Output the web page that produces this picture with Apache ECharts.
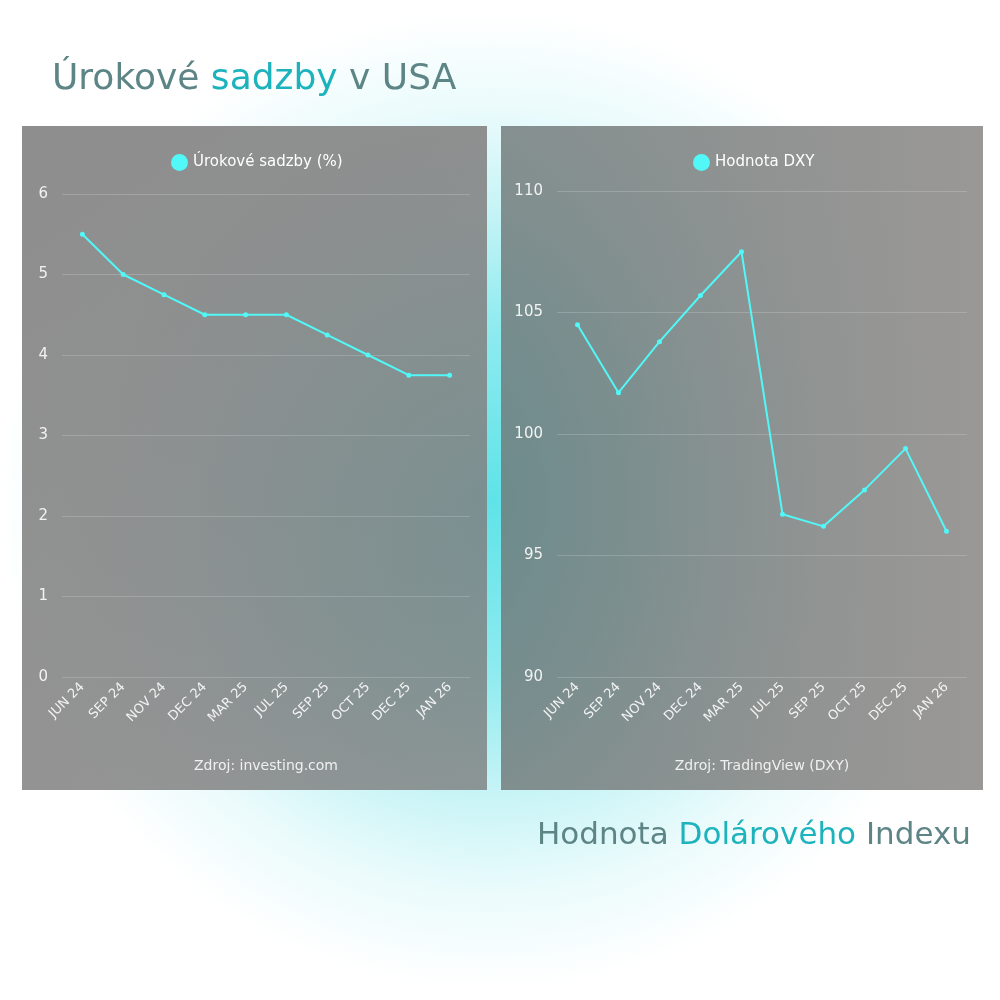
<!DOCTYPE html>
<html><head><meta charset="utf-8">
<script src="https://cdn.jsdelivr.net/npm/echarts@6/dist/echarts.min.js"></script>
<style>html,body{margin:0;padding:0;background:#fff}#c{width:1000px;height:1000px}</style>
</head><body><div id="c"></div>
<script>
const categories = ['JUN 24','SEP 24','NOV 24','DEC 24','MAR 25','JUL 25','SEP 25','OCT 25','DEC 25','JAN 26'];
const rateValues = [5.5, 5.0, 4.75, 4.5, 4.5, 4.5, 4.25, 4.0, 3.75, 3.75];
const dxyValues = [104.5, 101.7, 103.8, 105.7, 107.5, 96.7, 96.2, 97.7, 99.4, 96.0];
const rateName = 'Úrokové sadzby (%)';
const dxyName = 'Hodnota DXY';

const FONT = 'DejaVu Sans';
const chart = echarts.init(document.getElementById('c'));
const lineColor = '#52f7f7';
const labelColor = '#f2f2f2';

function xAxis(gi){
  return {type:'category', gridIndex:gi, data:categories, boundaryGap:true,
    axisLine:{show:false}, axisTick:{show:false},
    axisLabel:{rotate:45, color:labelColor, fontFamily:FONT, fontSize:13, margin:8, interval:0}};
}
function yAxis(gi, min, max, interval){
  return {type:'value', gridIndex:gi, min, max, interval,
    axisLine:{show:false}, axisTick:{show:false},
    axisLabel:{color:labelColor, fontFamily:FONT, fontSize:15, margin:14},
    splitLine:{lineStyle:{color:'rgba(255,255,255,0.18)', width:1}}};
}
function series(name, data, idx){
  return {type:'line', name, data, xAxisIndex:idx, yAxisIndex:idx,
    symbol:'circle', symbolSize:5, showSymbol:true,
    lineStyle:{color:lineColor, width:2}, itemStyle:{color:lineColor}};
}

chart.setOption({
  backgroundColor:{type:'radial', x:0.49, y:0.5, r:0.49,
    colorStops:[{offset:0,color:'#5fe3e8'},{offset:0.35,color:'#8eebef'},{offset:0.6,color:'#c8f4f6'},{offset:0.8,color:'#ebfbfc'},{offset:1,color:'#ffffff'}]},
  textStyle:{fontFamily:FONT},
  graphic:[
    {type:'rect', z:-10, silent:true, shape:{x:22,y:126,width:465,height:664},
      style:{fill:{type:'linear',x:0,y:0,x2:1,y2:1,colorStops:[{offset:0,color:'rgba(138,138,138,0.97)'},{offset:1,color:'rgba(125,125,125,0.8)'}]}}},
    {type:'rect', z:-10, silent:true, shape:{x:501,y:126,width:482,height:664},
      style:{fill:{type:'linear',x:0,y:0,x2:1,y2:0,colorStops:[{offset:0,color:'rgba(112,120,120,0.82)'},{offset:1,color:'rgba(152,150,148,0.98)'}]}}},
    {type:'text', left:52, top:62, style:{
      text:'{a|Úrokové }{b|sadzby }{a|v USA}',
      rich:{a:{fontSize:36, fontFamily:FONT, fill:'#5d8586'}, b:{fontSize:36, fontFamily:FONT, fill:'#1db3bd'}}}},
    {type:'text', left:537, top:820, style:{
      text:'{a|Hodnota }{b|Dolárového }{a|Indexu}',
      rich:{a:{fontSize:31, fontFamily:FONT, fill:'#5d8586'}, b:{fontSize:31, fontFamily:FONT, fill:'#1db3bd'}}}},
    {type:'text', x:266, y:766, style:{text:'Zdroj: investing.com', fill:'#f0f0f0', fontSize:14, fontFamily:FONT, textAlign:'center', textVerticalAlign:'middle'}},
    {type:'text', x:762, y:766, style:{text:'Zdroj: TradingView (DXY)', fill:'#f0f0f0', fontSize:14, fontFamily:FONT, textAlign:'center', textVerticalAlign:'middle'}}
  ],
  legend:[
    {data:[rateName], left:166, top:149, icon:'circle', itemWidth:17, itemHeight:17, itemGap:8,
      textStyle:{color:'#ffffff', fontSize:15, fontFamily:FONT}},
    {data:[dxyName], left:688, top:149, icon:'circle', itemWidth:17, itemHeight:17, itemGap:8,
      textStyle:{color:'#ffffff', fontSize:15, fontFamily:FONT}}
  ],
  grid:[
    {left:62, right:530, top:194, bottom:323, containLabel:false},
    {left:557, right:33, top:191, bottom:323, containLabel:false}
  ],
  xAxis:[xAxis(0), xAxis(1)],
  yAxis:[yAxis(0,0,6,1), yAxis(1,90,110,5)],
  series:[series(rateName, rateValues, 0), series(dxyName, dxyValues, 1)]
});
</script></body></html>
